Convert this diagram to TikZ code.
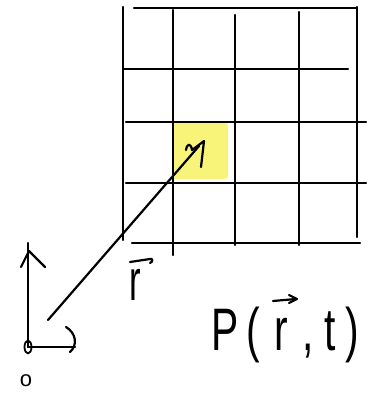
\documentclass[tikz,border=0pt]{standalone}
\usepackage{fontspec}
\setmainfont{Liberation Sans}
\newcommand{\cellchar}[2]{\makebox[#1][c]{\scalebox{0.68}[1]{#2}}}
\begin{document}
\begin{tikzpicture}[x=1pt,y=-1pt,
  pen/.style={line width=2.2pt, line cap=round, line join=round, black},
  hand/.style={inner sep=0pt, outer sep=0pt, text=black}]
\definecolor{hl}{HTML}{F8F47A}
\useasboundingbox (0,0) rectangle (376,395);
% highlighted cell
\fill[hl, rounded corners=3pt] (173,122) rectangle (228,179);
% grid: vertical lines
\draw[pen] (123,7) -- (123,240);
\draw[pen] (173,10) -- (173,255);
\draw[pen] (235,15) -- (235,245);
\draw[pen] (299,12) -- (299,245);
\draw[pen] (357,7) -- (357,237);
% grid: horizontal lines
\draw[pen] (134,8) -- (357,8);
\draw[pen] (124,69) -- (348,69);
\draw[pen] (126,122) -- (366,122);
\draw[pen] (126,183) -- (366,183);
\draw[pen] (132,243) -- (360,243);
% axes
\coordinate (O) at (28,347);
\coordinate (ytop) at (28,243);
\coordinate (xend) at (75,347);
\draw[pen] (O) -- (ytop);
\draw[pen] (O) -- (xend);
\draw[pen] (21,267) -- (29,251) -- (45,267);
\draw[pen] (66,327) .. controls (76,333) and (78,345) .. (70,352);
\draw[pen, line width=1.8pt] (O) ellipse [x radius=3.5pt, y radius=6.5pt];
% position vector
\coordinate (rstart) at (48,320);
\coordinate (rtip) at (204,141);
\draw[pen] (rstart) -- (199,146);
\draw[pen] (186,150) .. controls (187,143) and (191,143) .. (192,150) -- (rtip) -- (201,167);
% labels
\node[hand, font=\fontsize{22}{22}\selectfont] (olab) at (26,381) {o};
\node[hand, anchor=base west, font=\fontsize{58}{58}\selectfont] (rlab) at (129,300) {\scalebox{0.6}[1]{r}};
\draw[pen] (130,262) -- (150,259) .. controls (153,258) and (153,262) .. (150,263);
\node[hand, anchor=base west, font=\fontsize{60}{60}\selectfont] (plab) at (211,350)
  {\cellchar{28pt}{P}\cellchar{28pt}{(}\cellchar{28pt}{r}\cellchar{26pt}{,}\cellchar{18pt}{t}\cellchar{26pt}{)}};
\draw[pen] (273,301) -- (296,299);
\draw[pen] (289,295) -- (297,299) -- (289,303);
\end{tikzpicture}
\end{document}
